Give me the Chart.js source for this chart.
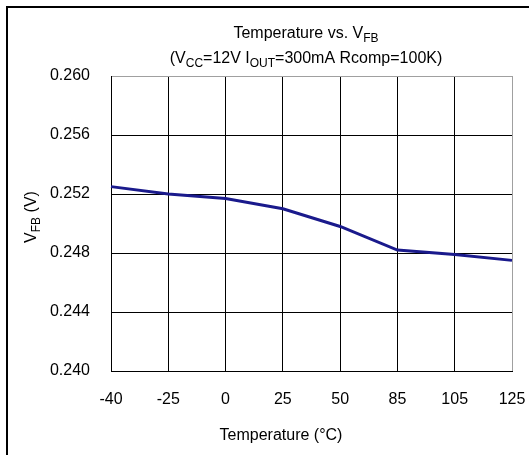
<!DOCTYPE html>
<html>
<head>
<meta charset="utf-8">
<script src="https://cdn.jsdelivr.net/npm/chart.js@4/dist/chart.umd.min.js"></script>
<style>
  html,body{margin:0;background:#fff}
  #wrap{width:529px;height:455px;position:relative}
</style>
</head>
<body>
<div id="wrap"><canvas id="chart"></canvas></div>
<script>
// 資料
const temps  = ['-40','-25','0','25','50','85','105','125'];
const vfb    = [0.2525,0.2520,0.2517,0.2510,0.2498,0.2482,0.2479,0.2475];
const yTicks = [0.240,0.244,0.248,0.252,0.256,0.260];

const FONT = '"Liberation Sans",Arial,sans-serif';

// parts: [text, isSub]
function drawRich(ctx, parts, cx, y, size){
  const sub = Math.round(size*0.72);
  let w = 0;
  parts.forEach(([t,s])=>{ ctx.font = (s?sub:size)+'px '+FONT; w += ctx.measureText(t).width; });
  let x = cx - w/2;
  ctx.textAlign = 'left'; ctx.textBaseline = 'alphabetic'; ctx.fillStyle = '#000';
  parts.forEach(([t,s])=>{
    ctx.font = (s?sub:size)+'px '+FONT;
    ctx.fillText(t, x, s ? y + size*0.22 : y);
    x += ctx.measureText(t).width;
  });
}

const deco = {
  id:'deco',
  beforeDraw(c){
    const ctx = c.ctx;
    ctx.save();
    ctx.strokeStyle = '#000'; ctx.lineWidth = 2;
    ctx.beginPath(); ctx.moveTo(7, 455); ctx.lineTo(7, 7); ctx.lineTo(529, 7); ctx.stroke();
    ctx.restore();
  },
  afterDraw(c){
    const ctx = c.ctx;
    ctx.save();
    drawRich(ctx, [['Temperature vs. V',0],['FB',1]], 306, 38, 16);
    drawRich(ctx, [['(V',0],['CC',1],['=12V I',0],['OUT',1],['=300mA Rcomp=100K)',0]], 306, 63, 16);
    drawRich(ctx, [['Temperature (°C)',0]], 281, 440, 16);
    ctx.translate(36, 217); ctx.rotate(-Math.PI/2);
    drawRich(ctx, [['V',0],['FB',1],[' (V)',0]], 0, 0, 16);
    ctx.restore();
  }
};

new Chart(document.getElementById('chart'), {
  type:'line',
  data:{ labels:temps, datasets:[{
    data:vfb, borderColor:'#1a1a8c', borderWidth:3, pointRadius:0, tension:0, fill:false
  }]},
  options:{
    responsive:true, maintainAspectRatio:false, animation:false,
    layout:{padding:{top:76, right:17, left:0, bottom:0}},
    plugins:{legend:{display:false}, tooltip:{enabled:false}},
    scales:{
      x:{
        offset:false,
        grid:{color:ctx=>ctx.index===temps.length-1?'#a0a0a0':'#000', lineWidth:1, drawTicks:false},
        border:{color:'#000', width:1},
        ticks:{color:'#000', padding:19, maxRotation:0, autoSkip:false, font:{family:FONT, size:16}},
        afterFit:s=>{ s.height = 84; s.paddingLeft = 0; s.paddingRight = 0; }
      },
      y:{
        min:0.240, max:0.260,
        afterBuildTicks:s=>{ s.ticks = yTicks.map(v=>({value:v})); },
        grid:{color:ctx=>ctx.index===yTicks.length-1?'#a0a0a0':'#000', lineWidth:1, drawTicks:false},
        border:{color:'#000', width:1},
        ticks:{color:'#000', padding:21, font:{family:FONT, size:16}, callback:v=>v.toFixed(3)},
        afterFit:s=>{ s.width = 111; s.paddingTop = 0; s.paddingBottom = 0; }
      }
    }
  },
  plugins:[deco]
});
</script>
</body>
</html>
